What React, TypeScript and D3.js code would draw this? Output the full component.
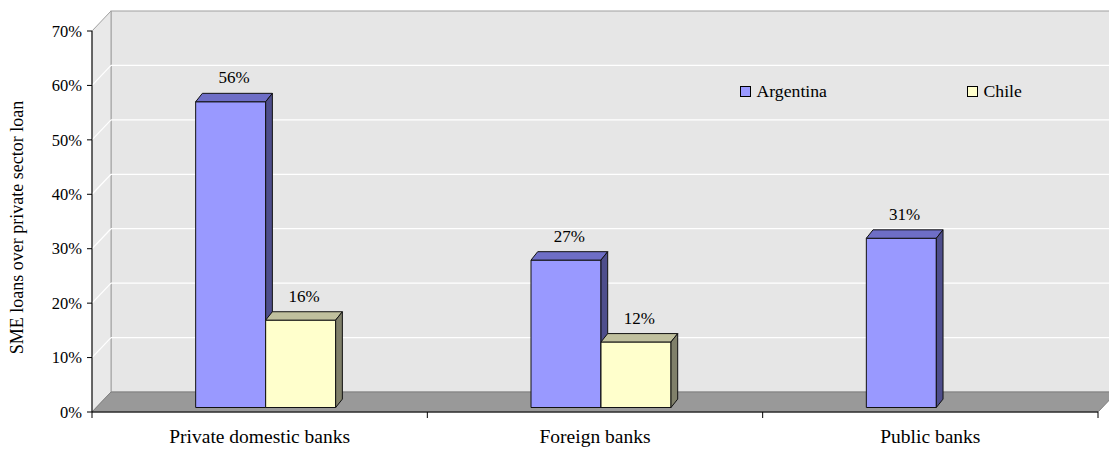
import React from "react";
import * as d3 from "d3";

const categories = ["Private domestic banks", "Foreign banks", "Public banks"];
const seriesNames = ["Argentina", "Chile"];
const argentina: (number | null)[] = [56, 27, 31];
const chile: (number | null)[] = [16, 12, null];
const yTicks = [0, 10, 20, 30, 40, 50, 60, 70];
const yTitle = "SME loans over private sector loan";

const W = 1109;
const H = 449;
const FONT = "Liberation Serif, Times New Roman, serif";

// projection of the 3D box
const DX = 19;
const DY = -20;
const front = { left: 92, right: 1098, top: 31, bottom: 412 };

const faces = [
  { front: "#9999FF", top: "#6E6EC6", side: "#4E4E8C" },
  { front: "#FFFFCC", top: "#C0C09E", side: "#80806A" },
];

const textStyle: React.CSSProperties = { fontFamily: FONT };

export default function App() {
  const x = d3.scaleBand<string>().domain(categories).range([front.left, front.right]);
  const y = d3.scaleLinear().domain([0, 70]).range([front.bottom, front.top]);
  // bars sit slightly behind the front plane
  const barOffX = 6;
  const yBar = d3.scaleLinear().domain([0, 70]).range([407.5, 25.3]);
  const barW = 70;
  const bdx = 6.7;
  const bdy = -8.4;

  const series = [argentina, chile];

  const bars: React.ReactNode[] = [];
  const labels: React.ReactNode[] = [];
  categories.forEach((c, ci) => {
    const center = (x(c) as number) + x.bandwidth() / 2 + barOffX;
    series.forEach((vals, si) => {
      const v = vals[ci];
      if (v == null) return;
      const x0 = center - barW + si * barW;
      const x1 = x0 + barW;
      const y0 = yBar(0);
      const y1 = yBar(v);
      const col = faces[si];
      bars.push(
        <g key={`b${ci}-${si}`} stroke="#111" strokeWidth={1} strokeLinejoin="round">
          <rect x={x0} y={y1} width={barW} height={y0 - y1} fill={col.front} />
          <polygon
            points={`${x0},${y1} ${x0 + bdx},${y1 + bdy} ${x1 + bdx},${y1 + bdy} ${x1},${y1}`}
            fill={col.top}
          />
          <polygon
            points={`${x1},${y1} ${x1 + bdx},${y1 + bdy} ${x1 + bdx},${y0 + bdy} ${x1},${y0}`}
            fill={col.side}
          />
        </g>
      );
      labels.push(
        <text
          key={`l${ci}-${si}`}
          x={(x0 + x1) / 2 + bdx / 2}
          y={y1 + bdy - 10}
          textAnchor="middle"
          style={{ ...textStyle, fontSize: "17px" }}
          fill="#000"
        >
          {`${v}%`}
        </text>
      );
    });
  });

  const gridTicks = yTicks.filter((t) => t > 0 && t < 70);

  return (
    <svg
      width={W}
      height={H}
      viewBox={`0 0 ${W} ${H}`}
      style={{ position: "absolute", left: 0, top: 0, display: "block", background: "#fff" }}
    >
      {/* back wall */}
      <rect
        x={front.left + DX}
        y={front.top + DY}
        width={front.right - front.left}
        height={front.bottom - front.top}
        fill="#E6E6E6"
        stroke="#A0A0A0"
        strokeWidth={1}
      />
      {/* left wall */}
      <polygon
        points={`${front.left},${front.top} ${front.left + DX},${front.top + DY} ${front.left + DX},${front.bottom + DY} ${front.left},${front.bottom}`}
        fill="#E9E9E9"
        stroke="#A0A0A0"
        strokeWidth={1}
      />
      {/* gridlines */}
      {gridTicks.map((t) => (
        <g key={`g${t}`} stroke="#FFFFFF" strokeWidth={1.2}>
          <line x1={front.left + DX} x2={front.right + DX} y1={y(t) + DY} y2={y(t) + DY} />
          <line x1={front.left} x2={front.left + DX} y1={y(t)} y2={y(t) + DY} />
        </g>
      ))}
      {/* floor */}
      <polygon
        points={`${front.left},${front.bottom} ${front.right},${front.bottom} ${front.right + DX},${front.bottom + DY} ${front.left + DX},${front.bottom + DY}`}
        fill="#999999"
        stroke="#808080"
        strokeWidth={1}
      />

      {bars}
      {labels}

      {/* y axis */}
      <line x1={front.left} x2={front.left} y1={front.top} y2={front.bottom} stroke="#000" strokeWidth={1} />
      {yTicks.map((t) => (
        <g key={`yt${t}`}>
          <line x1={front.left - 5} x2={front.left} y1={y(t)} y2={y(t)} stroke="#000" />
          <text
            x={front.left - 10}
            y={y(t)}
            dy="0.35em"
            textAnchor="end"
            style={{ ...textStyle, fontSize: "16.5px" }}
            fill="#000"
          >
            {`${t}%`}
          </text>
        </g>
      ))}

      {/* x axis */}
      <line x1={front.left} x2={front.right} y1={front.bottom} y2={front.bottom} stroke="#000" strokeWidth={1} />
      {[...categories.map((c) => x(c) as number), front.right].map((tx, i) => (
        <line key={`xt${i}`} x1={tx} x2={tx} y1={front.bottom} y2={front.bottom + 6} stroke="#000" />
      ))}
      {categories.map((c) => (
        <text
          key={`xl${c}`}
          x={(x(c) as number) + x.bandwidth() / 2}
          y={443}
          textAnchor="middle"
          style={{ ...textStyle, fontSize: "19.5px" }}
          fill="#000"
        >
          {c}
        </text>
      ))}

      {/* y title */}
      <text
        transform={`translate(23, ${(front.top + front.bottom) / 2 + 6}) rotate(-90)`}
        textAnchor="middle"
        style={{ ...textStyle, fontSize: "18px" }}
        fill="#000"
      >
        {yTitle}
      </text>

      {/* legend */}
      {seriesNames.map((n, i) => {
        const lx = i === 0 ? 740.5 : 967.5;
        return (
          <g key={`lg${n}`}>
            <rect x={lx} y={86.5} width={10} height={10} fill={faces[i].front} stroke="#000" strokeWidth={1} />
            <text x={lx + 16} y={97} style={{ ...textStyle, fontSize: "17.7px" }} fill="#000">
              {n}
            </text>
          </g>
        );
      })}
    </svg>
  );
}
